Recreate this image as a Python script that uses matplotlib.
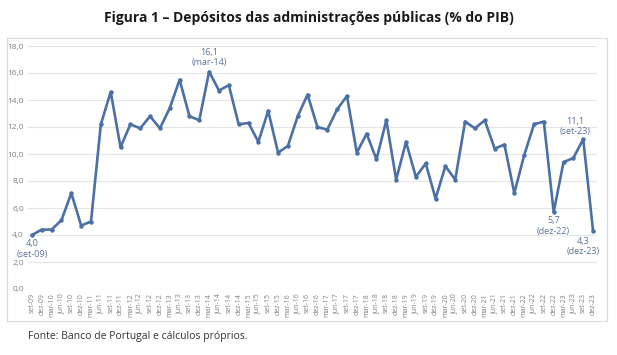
import matplotlib.pyplot as plt
from matplotlib.patches import Rectangle

plt.rcParams['font.family'] = ['Open Sans', 'DejaVu Sans']

# quarterly labels set-09 .. dez-23
months = ['mar', 'jun', 'set', 'dez']
labels = []
for yr in range(9, 24):
    for m in months:
        labels.append('%s-%02d' % (m, yr))
labels = labels[2:]

values = [4.0, 4.4, 4.4, 5.1, 7.1, 4.7, 5.0, 12.2, 14.6, 10.5,
          12.2, 11.9, 12.8, 11.9, 13.4, 15.5, 12.8, 12.5, 16.1, 14.7,
          15.1, 12.2, 12.3, 10.9, 13.2, 10.1, 10.6, 12.8, 14.4, 12.0,
          11.8, 13.3, 14.3, 10.1, 11.5, 9.6, 12.5, 8.1, 10.9, 8.3,
          9.3, 6.7, 9.1, 8.1, 12.4, 11.9, 12.5, 10.4, 10.7, 7.1,
          9.9, 12.2, 12.4, 5.7, 9.4, 9.7, 11.1, 4.3]

# annotated points: index, dx, dy (points offset for text)
notes = [(0, 0, -3), (18, 0, 3), (53, 0, -3), (56, -6, 2), (57, -7, -4)]

fig = plt.figure(figsize=(6.17, 3.55), dpi=100)
ax = fig.add_axes([28/617, 1-289/355, 569/617, 243/355])

x = list(range(len(values)))
ax.plot(x, values, color='#4a70a6', lw=1.9, marker='o', ms=2.2, zorder=3)

ax.set_ylim(0, 18)
ax.set_xlim(-0.4, len(values) - 0.6)
ax.set_yticks(range(0, 19, 2))
ax.set_yticklabels(['%d,0' % v for v in range(0, 19, 2)], fontsize=6, color='#808080')
ax.set_xticks(x)
ax.set_xticklabels(labels, rotation=90, fontsize=5, color='#808080')
ax.tick_params(length=0, pad=3)
ax.yaxis.grid(True, color='#e6e6e6', lw=0.8)
for s in ax.spines.values():
    s.set_visible(False)

for i, dx, dy in notes:
    txt = ('%.1f' % values[i]).replace('.', ',') + '\n(' + labels[i] + ')'
    va = 'bottom' if dy > 0 else 'top'
    ax.annotate(txt, (i, values[i]), xytext=(dx, dy),
                textcoords='offset points', ha='center', va=va,
                fontsize=6.5, color='#5d7398', linespacing=1.25)

# chart border
fig.patches.append(Rectangle((7/617, 1-321/355), 600/617, 283/355,
                             transform=fig.transFigure, fill=False,
                             ec='#d9d9d9', lw=0.8))

fig.text(0.5, 1-18/355, 'Figura 1 – Depósitos das administrações públicas (% do PIB)',
         ha='center', va='center', fontsize=10, fontweight='bold', color='#1a1a1a')
fig.text(28/617, 1-337/355, 'Fonte: Banco de Portugal e cálculos próprios.',
         ha='left', va='center', fontsize=7.5, color='#333333')

fig.savefig('out.png', dpi=100)
